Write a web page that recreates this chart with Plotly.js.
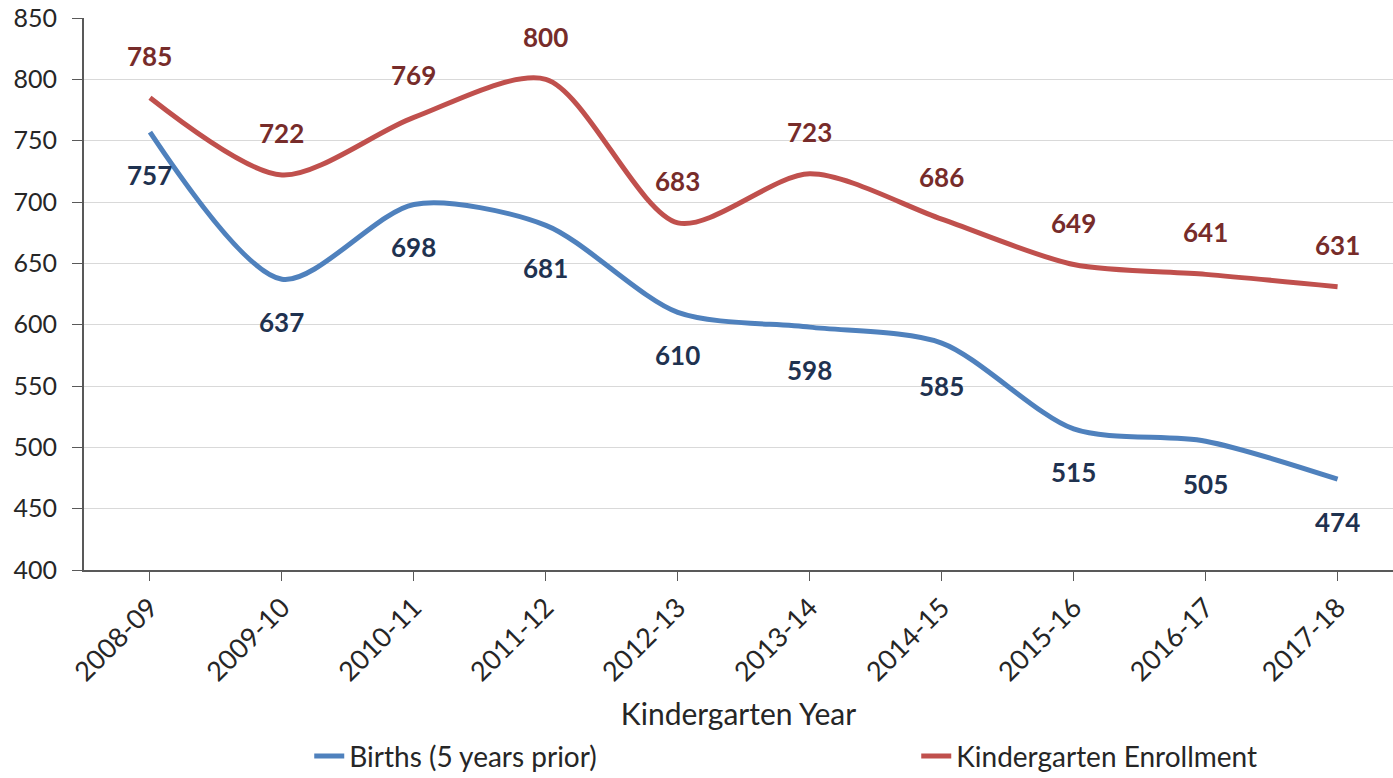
<!DOCTYPE html>
<html>
<head>
<meta charset="utf-8">
<script src="https://cdn.plot.ly/plotly-3.0.1.min.js"></script>
<style>
  html, body { margin: 0; padding: 0; background: #fff; }
  #plot { width: 1393px; height: 778px; }
</style>
</head>
<body>
<div id="plot"></div>
<script>
const years = ["2008-09", "2009-10", "2010-11", "2011-12", "2012-13",
  "2013-14", "2014-15", "2015-16", "2016-17", "2017-18"];
const births = [757, 637, 698, 681, 610, 598, 585, 515, 505, 474];
const enrollment = [785, 722, 769, 800, 683, 723, 686, 649, 641, 631];

const FONT = "Lato, 'Open Sans', sans-serif";
const BLUE = "#4F81BD";
const RED = "#C0504D";

const data = [
  {
    x: years,
    y: births,
    type: "scatter",
    mode: "lines",
    name: "Births (5 years prior)",
    line: { color: BLUE, width: 5, shape: "spline", smoothing: 0.8 },
  },
  {
    x: years,
    y: enrollment,
    type: "scatter",
    mode: "lines",
    name: "Kindergarten Enrollment",
    line: { color: RED, width: 5, shape: "spline", smoothing: 0.8 },
  },
];

// data labels: births below the line, enrollment above
const annotations = [];
years.forEach((yr, i) => {
  annotations.push({
    x: yr, y: births[i], text: String(births[i]), showarrow: false,
    yshift: -43, font: { family: FONT, size: 26, color: "#1F3250", weight: "bold" },
  });
  annotations.push({
    x: yr, y: enrollment[i], text: String(enrollment[i]), showarrow: false,
    yshift: 42, font: { family: FONT, size: 26, color: "#772C2A", weight: "bold" },
  });
});

const layout = {
  width: 1393,
  height: 778,
  margin: { l: 84, r: 0, t: 18, b: 208 },
  paper_bgcolor: "#fff",
  plot_bgcolor: "#fff",
  font: { family: FONT, color: "#262626" },
  showlegend: true,
  legend: {
    orientation: "h",
    xref: "container",
    yref: "container",
    x: 0.222,
    xanchor: "left",
    y: 0.028,
    yanchor: "middle",
    entrywidth: 562,
    font: { size: 28, color: "#262626" },
    itemwidth: 30,
  },
  xaxis: {
    type: "category",
    range: [-0.5, 9.42],
    title: { text: "Kindergarten Year", font: { size: 30, color: "#262626" }, standoff: 26 },
    tickangle: -45,
    tickfont: { size: 27, color: "#262626" },
    showline: true,
    linecolor: "#595959",
    linewidth: 2,
    ticks: "outside",
    ticklen: 9,
    tickcolor: "#595959",
    showgrid: false,
    zeroline: false,
    automargin: false,
  },
  yaxis: {
    range: [400, 850],
    dtick: 50,
    tickfont: { size: 25, color: "#262626" },
    ticklabelstandoff: 10,
    showline: true,
    linecolor: "#595959",
    linewidth: 2,
    ticks: "outside",
    ticklen: 10,
    tickcolor: "#595959",
    gridcolor: "#D9D9D9",
    gridwidth: 1,
    zeroline: false,
    automargin: false,
  },
  annotations: annotations,
};

Plotly.newPlot("plot", data, layout, { displayModeBar: false });
</script>
</body>
</html>
